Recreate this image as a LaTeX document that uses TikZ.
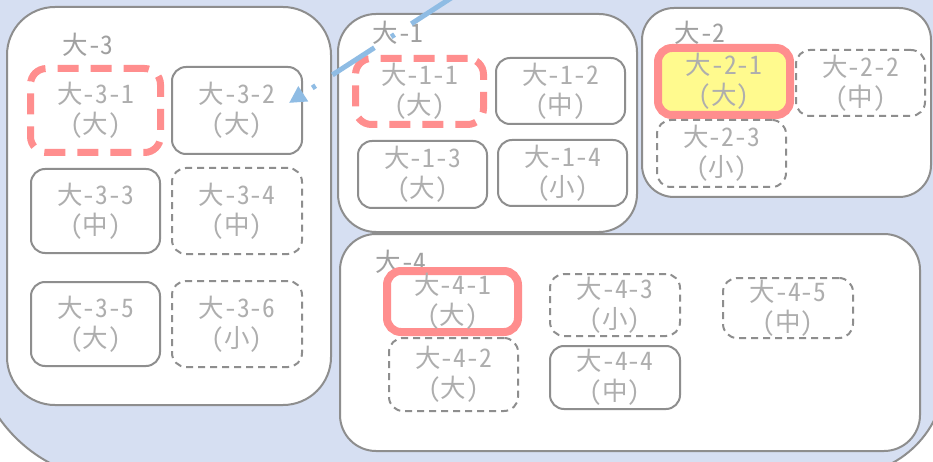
\documentclass[tikz,border=0pt]{standalone}
\usepackage{fontspec}
\newfontfamily\jp[RawFeature=+hwid]{Noto Sans CJK JP}
\usetikzlibrary{arrows.meta}
\definecolor{bgblue}{HTML}{D6DFF2}
\definecolor{edgegray}{HTML}{8E8E8E}
\definecolor{txtgray}{HTML}{AEAEAE}
\definecolor{hlred}{HTML}{FF8E8E}
\definecolor{hlyellow}{HTML}{FFFA8E}
\definecolor{arrowblue}{HTML}{8FBCE4}
\begin{document}
\begin{tikzpicture}[x=1pt,y=-1pt,
  boxtext/.style={font=\jp\fontsize{25.5}{30}\selectfont, text=txtgray, align=center, inner sep=0pt},
  sz/.style 2 args={minimum width=#1pt, minimum height=#2pt},
  container/.style={draw=edgegray, line width=2pt, fill=white, rounded corners=#1pt, inner sep=0pt},
  grouplabel/.style={font=\jp\fontsize{25.5}{30}\selectfont, text=txtgray!92!black, inner sep=0pt},
  plainbox/.style={boxtext, draw=edgegray, line width=2pt, rounded corners=14pt, fill=white},
  dashbox/.style={plainbox, dash pattern=on 7pt off 5pt},
  reddash/.style={boxtext, draw=hlred, line width=7pt, rounded corners=16pt, dash pattern=on 21pt off 12pt, fill=white},
  redbox/.style={boxtext, draw=hlred, line width=8pt, rounded corners=14pt, fill=white},
  yellowbox/.style={redbox, fill=hlyellow},
  flowarrow/.style={draw=arrowblue, line width=5pt, dash pattern=on 50pt off 20pt on 4pt off 20pt, -{Triangle[length=17pt,width=17pt]}}
]
\useasboundingbox (0,0) rectangle (933,462);
\fill[white] (0,0) rectangle (933,462);
% background panel
\draw[edgegray, line width=2pt, fill=bgblue]
  (-27,-200) -- (-27,335) .. controls (-27,415) and (38,480) .. (118,480)
  -- (845,475) .. controls (900,475) and (945,430) .. (945,375)
  -- (945,-200) -- cycle;

% containers
\node[container=48, sz={324}{398}] (c3) at (169,206) {};
\node[container=38, sz={299}{218}] (c1) at (487.5,123) {};
\node[container=32, sz={289}{189}] (c2) at (786.5,102.5) {};
\node[container=36, sz={580}{217}] (c4) at (630,342.5) {};

% group labels
\node[grouplabel] (l3) at (88,45) {大-3};
\node[grouplabel] (l1) at (398,33) {大-1};
\node[grouplabel] (l2) at (700,33) {大-2};
\node[grouplabel] (l4) at (401,262) {大-4};

% group 3
\node[reddash, sz={130}{84}] (n31) at (95.5,110.5) {大-3-1\\（大）};
\node[plainbox, sz={130}{87}] (n32) at (237,110.5) {大-3-2\\（大）};
\node[plainbox, sz={129}{84}] (n33) at (95.5,211) {大-3-3\\（中）};
\node[dashbox, sz={130}{86}] (n34) at (237,211) {大-3-4\\（中）};
\node[plainbox, sz={129}{84}] (n35) at (95.5,324) {大-3-5\\（大）};
\node[dashbox, sz={130}{86}] (n36) at (237,324) {大-3-6\\（小）};

% group 1
\node[reddash, sz={128}{66}] (n11) at (419.5,91.5) {大-1-1\\（大）};
\node[plainbox, sz={129}{66}] (n12) at (560.5,91) {大-1-2\\（中）};
\node[plainbox, sz={129}{67}] (n13) at (422.5,174.5) {大-1-3\\（大）};
\node[plainbox, sz={129}{66}] (n14) at (562.5,173) {大-1-4\\（小）};

% group 2
\node[yellowbox, sz={132}{67}] (n21) at (724,81.5) {大-2-1\\（大）};
\node[dashbox, sz={129}{66}] (n22) at (860.5,83) {大-2-2\\（中）};
\node[dashbox, sz={129}{67}] (n23) at (721.5,153.5) {大-2-3\\（小）};

% group 4
\node[redbox, sz={131}{61}] (n41) at (452.5,301.5) {大-4-1\\（大）};
\node[dashbox, sz={130}{62}] (n43) at (615,305) {大-4-3\\（小）};
\node[dashbox, sz={130}{60}] (n45) at (788,308) {大-4-5\\（中）};
\node[dashbox, sz={129}{73}] (n42) at (453.5,374.5) {大-4-2\\（大）};
\node[plainbox, sz={130}{63}] (n44) at (615,377.5) {大-4-4\\（中）};

% arrow
\coordinate (astart) at (453.3,-3.4);
\coordinate (aend) at ([xshift=-14pt,yshift=7.5pt]n32.east);
\draw[flowarrow] (astart) -- (aend);
\end{tikzpicture}
\end{document}
